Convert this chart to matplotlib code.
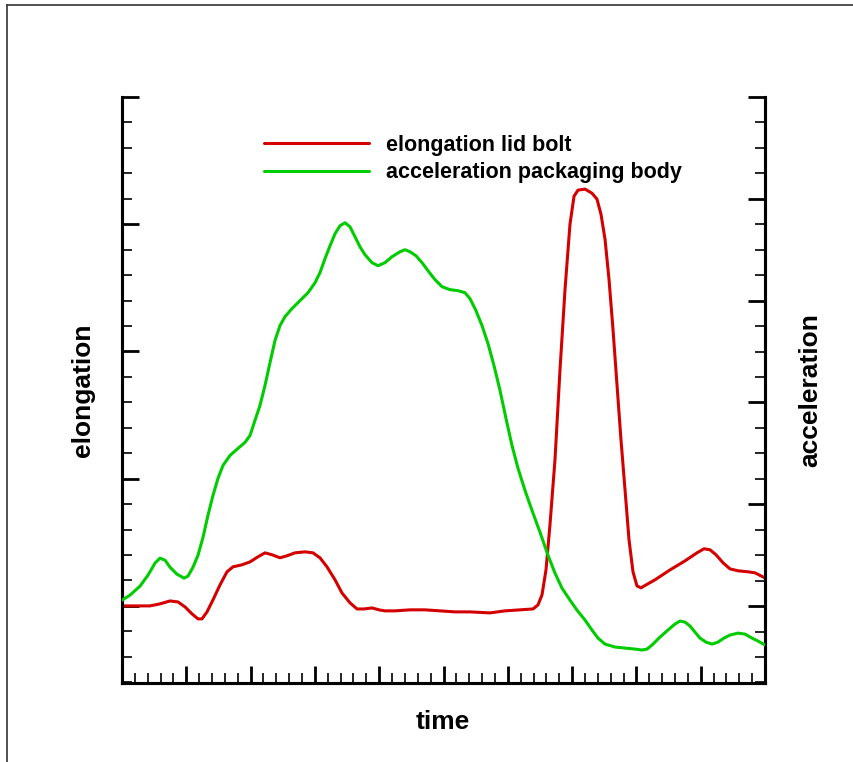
import matplotlib
matplotlib.use("Agg")
import matplotlib.pyplot as plt
from matplotlib.ticker import MultipleLocator
from matplotlib.lines import Line2D

plt.rcParams['font.family'] = ['Liberation Sans', 'DejaVu Sans']

# elongation lid bolt (left axis)
t_elong = [0.000, 0.202, 0.435, 0.591, 0.747, 0.871, 0.980, 1.089, 1.182, 1.244,
           1.322, 1.415, 1.524, 1.633, 1.726, 1.866, 1.991, 2.115, 2.224, 2.333,
           2.457, 2.566, 2.691, 2.846, 2.970, 3.079, 3.188, 3.313, 3.421, 3.546,
           3.655, 3.764, 3.888, 3.997, 4.090, 4.246, 4.479, 4.712, 4.946, 5.179,
           5.412, 5.723, 5.956, 6.190, 6.392, 6.470, 6.532, 6.594, 6.656, 6.734,
           6.812, 6.890, 6.967, 7.030, 7.092, 7.201, 7.309, 7.387, 7.449, 7.512,
           7.574, 7.636, 7.698, 7.760, 7.823, 7.885, 7.947, 8.009, 8.072, 8.149,
           8.289, 8.523, 8.756, 8.942, 9.051, 9.145, 9.238, 9.347, 9.456, 9.580,
           9.736, 9.844, 10.000]
elong = [0.000, 0.000, 0.000, 0.016, 0.039, 0.031, -0.008, -0.063, -0.102, -0.102,
         -0.047, 0.047, 0.165, 0.268, 0.307, 0.323, 0.346, 0.386, 0.417, 0.402,
         0.378, 0.394, 0.417, 0.425, 0.417, 0.378, 0.307, 0.205, 0.102, 0.024,
         -0.024, -0.024, -0.016, -0.031, -0.039, -0.039, -0.031, -0.031, -0.039, -0.047,
         -0.047, -0.055, -0.039, -0.031, -0.024, 0.008, 0.087, 0.283, 0.638, 1.150,
         1.858, 2.488, 3.000, 3.220, 3.268, 3.276, 3.244, 3.197, 3.079, 2.882,
         2.567, 2.173, 1.740, 1.307, 0.913, 0.520, 0.268, 0.157, 0.142, 0.165,
         0.205, 0.283, 0.354, 0.417, 0.449, 0.441, 0.402, 0.339, 0.291, 0.276,
         0.268, 0.260, 0.220]

# acceleration packaging body (right axis)
t_acc = [0.000, 0.124, 0.280, 0.404, 0.513, 0.591, 0.669, 0.747, 0.855, 0.964,
         1.026, 1.104, 1.182, 1.260, 1.337, 1.415, 1.493, 1.571, 1.680, 1.804,
         1.913, 1.991, 2.068, 2.146, 2.224, 2.302, 2.379, 2.457, 2.535, 2.644,
         2.768, 2.893, 3.002, 3.079, 3.157, 3.235, 3.313, 3.390, 3.468, 3.546,
         3.624, 3.701, 3.779, 3.888, 3.981, 4.090, 4.199, 4.323, 4.401, 4.479,
         4.572, 4.666, 4.759, 4.868, 4.977, 5.101, 5.225, 5.334, 5.412, 5.505,
         5.599, 5.692, 5.785, 5.879, 5.972, 6.065, 6.159, 6.267, 6.376, 6.501,
         6.625, 6.734, 6.843, 6.967, 7.076, 7.201, 7.309, 7.403, 7.512, 7.667,
         7.823, 7.978, 8.087, 8.165, 8.243, 8.367, 8.491, 8.600, 8.678, 8.756,
         8.834, 8.911, 8.989, 9.082, 9.176, 9.269, 9.362, 9.456, 9.580, 9.689,
         9.798, 9.891, 10.000]
acc = [0.059, 0.108, 0.196, 0.304, 0.422, 0.471, 0.451, 0.382, 0.314, 0.275,
       0.294, 0.382, 0.500, 0.676, 0.892, 1.088, 1.255, 1.382, 1.480, 1.549,
       1.608, 1.676, 1.824, 1.971, 2.167, 2.392, 2.608, 2.755, 2.843, 2.922,
       3.000, 3.078, 3.176, 3.275, 3.412, 3.539, 3.657, 3.735, 3.765, 3.725,
       3.627, 3.529, 3.451, 3.373, 3.343, 3.373, 3.431, 3.480, 3.500, 3.480,
       3.441, 3.373, 3.294, 3.206, 3.137, 3.108, 3.098, 3.078, 3.020, 2.902,
       2.755, 2.578, 2.363, 2.118, 1.843, 1.578, 1.353, 1.137, 0.941, 0.725,
       0.500, 0.324, 0.176, 0.059, -0.039, -0.137, -0.235, -0.314, -0.373, -0.402,
       -0.412, -0.422, -0.431, -0.422, -0.382, -0.304, -0.235, -0.176, -0.147, -0.157,
       -0.196, -0.255, -0.314, -0.353, -0.373, -0.353, -0.314, -0.284, -0.265, -0.275,
       -0.314, -0.343, -0.382]

labels = ["elongation lid bolt", "acceleration packaging body"]
colors = ["#d40000", "#00cc00"]

fig = plt.figure(figsize=(8.54, 7.62), dpi=100)
ax = fig.add_axes([122/854, 1-683/762, (765-122)/854, (683-97)/762])
ax2 = ax.twinx()

l1, = ax.plot(t_elong, elong, color=colors[0], lw=2.2, zorder=3,
              solid_joinstyle='round', solid_capstyle='round')
l2, = ax2.plot(t_acc, acc, color=colors[1], lw=2.2, zorder=3,
               solid_joinstyle='round', solid_capstyle='round')

ax.set_xlim(0, 10)
ax.set_ylim(-0.606, 4.0)
ax2.set_ylim(-0.755, 5.0)

for a in (ax, ax2):
    a.spines['top'].set_visible(False)
    for s in ('left', 'right', 'bottom'):
        a.spines[s].set_linewidth(2.2)

ax.xaxis.set_major_locator(MultipleLocator(1))
ax.xaxis.set_minor_locator(MultipleLocator(0.2))
ax.yaxis.set_major_locator(MultipleLocator(1))
ax.yaxis.set_minor_locator(MultipleLocator(0.2))
ax2.yaxis.set_major_locator(MultipleLocator(1))
ax2.yaxis.set_minor_locator(MultipleLocator(0.25))

ax.tick_params(axis='both', which='major', direction='in', length=12, width=2,
               labelbottom=False, labelleft=False)
ax.tick_params(axis='both', which='minor', direction='in', length=7, width=1.2)
ax.tick_params(axis='y', which='both', right=False)
ax.tick_params(axis='x', which='both', top=False)
ax2.tick_params(axis='y', which='major', direction='in', length=12, width=2, labelright=False)
ax2.tick_params(axis='y', which='minor', direction='in', length=7, width=1.2)

fig.text(83/854, 1-390/762, "elongation", rotation=90, ha='center', va='center',
         fontsize=19, fontweight='bold')
fig.text(810/854, 1-390/762, "acceleration", rotation=90, ha='center', va='center',
         fontsize=19, fontweight='bold')
fig.text(443/854, 1-722/762, "time", ha='center', va='center',
         fontsize=19, fontweight='bold')

leg = fig.legend([l1, l2], labels, loc='upper left',
                 bbox_to_anchor=(264/854, 1-135/762), frameon=False,
                 prop={'weight': 'bold', 'size': 15.5}, handlelength=4.9,
                 handletextpad=0.75, labelspacing=0.3, borderpad=0, borderaxespad=0)

fig.add_artist(Line2D([7/854, 7/854], [0, 1-5/762], transform=fig.transFigure,
                      color='#333333', lw=1.2))
fig.add_artist(Line2D([7/854, 1], [1-5/762, 1-5/762], transform=fig.transFigure,
                      color='#333333', lw=1.2))

fig.savefig("out.png", dpi=100)
